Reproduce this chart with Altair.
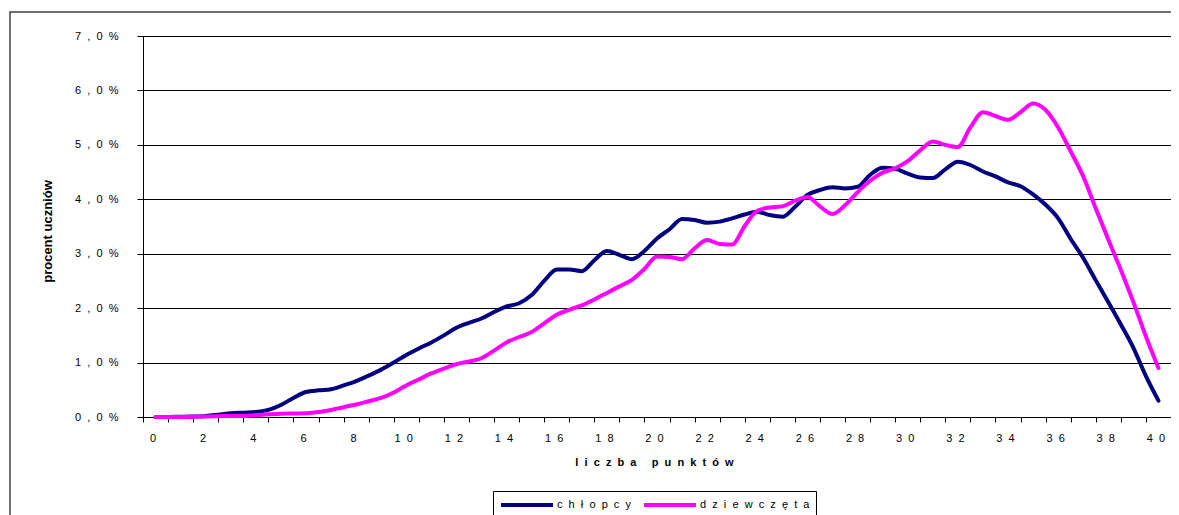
import altair as alt
import pandas as pd

# liczba punktów (co 0,5 pkt)
punkty = [i / 2 for i in range(81)]

serie = ["chłopcy", "dziewczęta"]
kolory = ["#000080", "#FF00FF"]

chlopcy = [
    0.00, 0.00, 0.005, 0.01, 0.02, 0.04, 0.07, 0.08, 0.09, 0.13,
    0.22, 0.35, 0.46, 0.49, 0.51, 0.58, 0.66, 0.76, 0.87, 1.00,
    1.14, 1.26, 1.37, 1.50, 1.64, 1.73, 1.81, 1.93, 2.03, 2.09,
    2.24, 2.50, 2.71, 2.71, 2.68, 2.88, 3.05, 2.98, 2.90, 3.05,
    3.28, 3.45, 3.64, 3.62, 3.57, 3.59, 3.65, 3.72, 3.77, 3.71,
    3.68, 3.86, 4.08, 4.17, 4.22, 4.20, 4.23, 4.45, 4.58, 4.56,
    4.47, 4.40, 4.39, 4.55, 4.69, 4.63, 4.51, 4.42, 4.31, 4.24,
    4.09, 3.90, 3.65, 3.27, 2.92, 2.51, 2.11, 1.70, 1.27, 0.75,
    0.30,
]

dziewczeta = [
    0.00, 0.00, 0.00, 0.005, 0.01, 0.015, 0.02, 0.02, 0.03, 0.05,
    0.06, 0.065, 0.07, 0.09, 0.13, 0.18, 0.23, 0.29, 0.35, 0.45,
    0.58, 0.69, 0.80, 0.89, 0.97, 1.02, 1.08, 1.22, 1.37, 1.47,
    1.56, 1.72, 1.88, 1.97, 2.05, 2.16, 2.28, 2.40, 2.52, 2.72,
    2.95, 2.94, 2.90, 3.10, 3.25, 3.18, 3.17, 3.51, 3.79, 3.85,
    3.87, 3.97, 4.04, 3.87, 3.73, 3.89, 4.13, 4.34, 4.49, 4.57,
    4.70, 4.90, 5.06, 5.00, 4.96, 5.32, 5.60, 5.53, 5.46, 5.60,
    5.76, 5.64, 5.32, 4.88, 4.42, 3.83, 3.26, 2.70, 2.11, 1.48,
    0.90,
]

y_ticks = [0, 1, 2, 3, 4, 5, 6, 7]
x_ticks = [k - 0.5 for k in range(42)]

NB2 = "\u00a0\u00a0"

rows = []
for s, vals in zip(serie, [chlopcy, dziewczeta]):
    for x, v in zip(punkty, vals):
        rows.append({"punkty": x, "procent": v, "seria": s})
df = pd.DataFrame(rows)

W, H = 1028, 381
FONT = "Liberation Sans"

border = alt.Chart(pd.DataFrame({"a": [0]})).mark_rect(
    fill="transparent", stroke="#404040", strokeWidth=1.5
).encode(
    x=alt.value(-133), x2=alt.value(W + 80),
    y=alt.value(-24), y2=alt.value(H + 200),
)

x_label_expr = (
    "(datum.value + 0.5) % 2 == 0 && datum.value < 40 ? "
    "join(split(format(datum.value + 0.5, 'd'), ''), '" + NB2 + "') : ''"
)
y_label_expr = (
    "join(split(replace(format(datum.value, '.1f'), '.', ','), ''), '" + NB2 + "') + '"
    + NB2 + "%'"
)
legend_label_expr = "join(split(datum.label, ''), '" + NB2 + "')"

lines = alt.Chart(df).mark_line(
    strokeWidth=4, interpolate="monotone", strokeCap="round", strokeJoin="round"
).encode(
    x=alt.X(
        "punkty:Q",
        scale=alt.Scale(domain=[-0.5, 40.5], nice=False, zero=False),
        axis=alt.Axis(
            values=x_ticks, labelExpr=x_label_expr, labelOffset=9.5,
            labelOverlap=False, labelFlush=False, labelBound=False,
            tickSize=5, labelPadding=10, grid=False,
            title=NB2.join("liczba punktów"),
            titleX=511, titleY=45, titleAlign="center", titleBaseline="middle",
            titleFontSize=11, titleFontWeight="bold",
        ),
    ),
    y=alt.Y(
        "procent:Q",
        scale=alt.Scale(domain=[0, 7], nice=False),
        axis=alt.Axis(
            values=y_ticks, labelExpr=y_label_expr, tickSize=6, labelPadding=19,
            grid=True, gridColor="black", gridWidth=1,
            title="procent uczniów", titleX=-96, titleY=195, titleAngle=-90,
            titleAlign="center", titleBaseline="middle",
            titleFontSize=13, titleFontWeight="bold",
        ),
    ),
    color=alt.Color(
        "seria:N",
        scale=alt.Scale(domain=serie, range=kolory),
        legend=alt.Legend(
            title=None, orient="none", legendX=350, legendY=455,
            direction="horizontal",
            symbolType="M-4.333,0L4.333,0", symbolSize=144,
            symbolOffset=20, symbolStrokeWidth=4, labelOffset=22,
            columnPadding=5,
            labelExpr=legend_label_expr, labelFontSize=11, labelColor="black",
            labelFont=FONT, strokeColor="black", fillColor="white", padding=6,
            cornerRadius=0,
        ),
    ),
)

chart = alt.layer(border, lines).properties(
    width=W, height=H,
    autosize=alt.AutoSizeParams(type="none"),
    padding={"left": 135, "top": 28, "right": 0, "bottom": 98},
    background="white",
).configure(font=FONT).configure_view(
    stroke="black", strokeWidth=1
).configure_axis(
    labelFont=FONT, labelFontSize=11, labelColor="black",
    titleFont=FONT, titleColor="black",
    domainColor="black", tickColor="black", domainWidth=1, tickWidth=1,
)

chart.save("out.html", embed_options={"renderer": "svg", "actions": False})
